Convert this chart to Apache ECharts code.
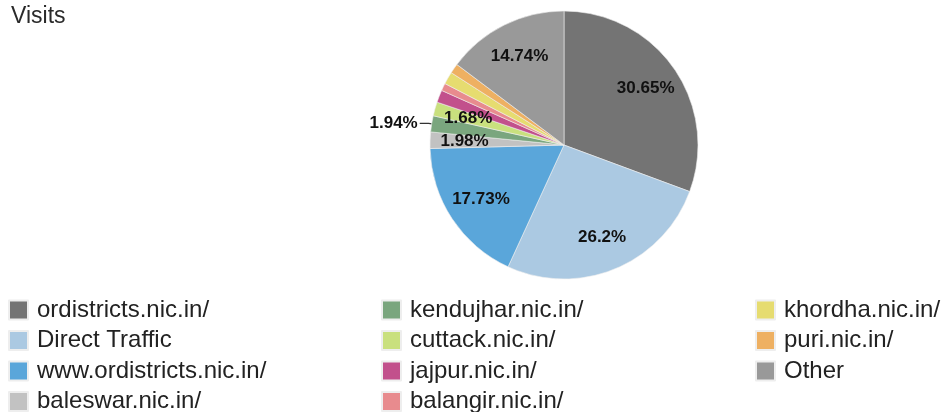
<!DOCTYPE html>
<html>
<head>
<meta charset="utf-8">
<script src="https://cdn.jsdelivr.net/npm/echarts@6/dist/echarts.min.js"></script>
<style>
  html, body { margin: 0; padding: 0; background: #fff; }
  #chart { width: 947px; height: 412px; }
</style>
</head>
<body>
<div id="chart"></div>
<script>
// share of visits per source (%)
const sources = [
  'ordistricts.nic.in/', 'Direct Traffic', 'www.ordistricts.nic.in/', 'baleswar.nic.in/',
  'kendujhar.nic.in/', 'cuttack.nic.in/', 'jajpur.nic.in/', 'balangir.nic.in/',
  'khordha.nic.in/', 'puri.nic.in/', 'Other'
];
const visits = [30.65, 26.2, 17.73, 1.98, 1.94, 1.68, 1.5, 0.9, 1.5, 1.18, 14.74];
const colors = [
  '#747474', '#abc9e2', '#5aa6da', '#c2c2c2', '#7aa67e', '#c9e07e',
  '#c2508c', '#e88b8e', '#e6dc70', '#eeb062', '#999999'
];
// which slices carry a percentage label, and where
const insideLabel = [true, true, true, true, false, true, false, false, false, false, true];
const outsideLabel = [false, false, false, false, true, false, false, false, false, false, false];

const legendCols = [sources.slice(0, 4), sources.slice(4, 8), sources.slice(8)];
const legendLeft = [8, 381, 755];

const chart = echarts.init(document.getElementById('chart'));

const font = 'Liberation Sans, Arial, sans-serif';
const pctText = (p) => p.value + '%';

const option = {
  animation: false,
  title: {
    text: 'Visits',
    left: 6,
    top: 0,
    textStyle: { fontFamily: font, fontSize: 23, fontWeight: 'normal', color: '#2a2a2a' }
  },
  legend: legendCols.map((names, i) => ({
    data: names,
    orient: 'vertical',
    left: legendLeft[i],
    top: 298,
    padding: 0,
    height: 120,
    icon: 'rect',
    itemWidth: 19,
    itemHeight: 19,
    itemGap: 6.5,
    selectedMode: false,
    textStyle: {
      fontFamily: font,
      fontSize: 24,
      lineHeight: 21,
      color: '#222',
      padding: [0, 0, 0, 4]
    }
  })),
  series: [
    {
      type: 'pie',
      center: [564, 145],
      radius: [0, 134],
      startAngle: 90,
      clockwise: true,
      avoidLabelOverlap: false,
      itemStyle: { borderColor: '#eeeeee', borderWidth: 0.6 },
      emphasis: { disabled: true },
      label: { show: false },
      labelLine: { show: false },
      data: sources.map((name, i) => ({
        name,
        value: visits[i],
        itemStyle: { color: colors[i] },
        label: {
          show: outsideLabel[i],
          position: 'outside',
          formatter: pctText,
          fontFamily: font,
          fontSize: 17,
          fontWeight: 'bold',
          color: '#111',
          distanceToLabelLine: 2
        },
        labelLine: {
          show: outsideLabel[i],
          length: 3,
          length2: 9,
          lineStyle: { color: '#333', width: 1.2 }
        }
      }))
    },
    {
      // transparent ring that only positions the inside labels
      type: 'pie',
      center: [564, 145],
      radius: [59, 134],
      startAngle: 90,
      clockwise: true,
      silent: true,
      avoidLabelOverlap: false,
      itemStyle: { color: 'rgba(0,0,0,0)' },
      labelLine: { show: false },
      data: sources.map((name, i) => ({
        name,
        value: visits[i],
        label: {
          show: insideLabel[i],
          position: 'inside',
          formatter: pctText,
          fontFamily: font,
          fontSize: 17,
          fontWeight: 'bold',
          color: '#111'
        }
      }))
    }
  ]
};

chart.setOption(option);
</script>
</body>
</html>
